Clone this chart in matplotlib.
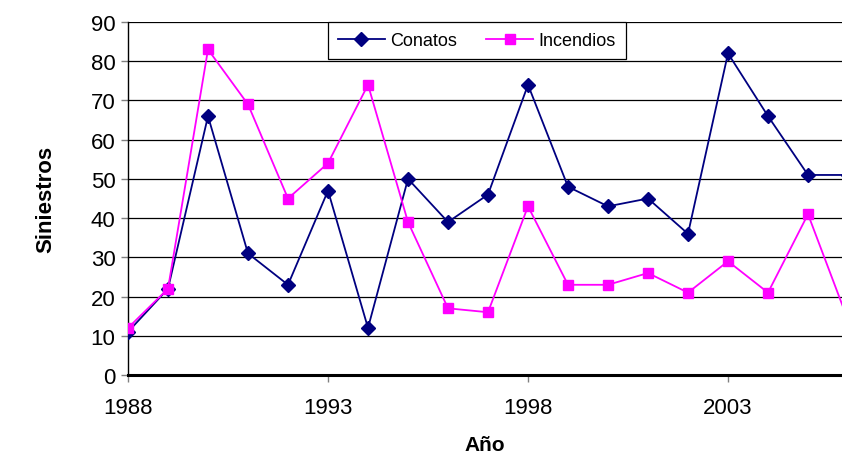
import matplotlib
matplotlib.use("Agg")
import matplotlib.pyplot as plt

plt.rcParams['font.family'] = ['Liberation Sans', 'DejaVu Sans']

# Siniestros por año
years = list(range(1988, 2007))
conatos = [11, 22, 66, 31, 23, 47, 12, 50, 39, 46, 74, 48, 43, 45, 36, 82, 66, 51, 51]
incendios = [12, 22, 83, 69, 45, 54, 74, 39, 17, 16, 43, 23, 23, 26, 21, 29, 21, 41, 14]
xticks = [1988, 1993, 1998, 2003]
yticks = list(range(0, 100, 10))

fig = plt.figure(figsize=(8.42, 4.6), dpi=100)
ax = fig.add_axes([128/842, 84/460, 714/842, 353/460])

ax.plot(years, conatos, color='#000080', marker='D', markersize=7.5,
        linewidth=1.3, label='Conatos', zorder=3)
ax.plot(years, incendios, color='#FF00FF', marker='s', markersize=7.5,
        linewidth=1.3, label='Incendios', zorder=3)

ax.set_xlim(1988, 1988 + 714/40)
ax.set_ylim(0, 90)
ax.set_xticks(xticks)
ax.set_yticks(yticks)
ax.yaxis.grid(True, color='black', linewidth=0.9)
ax.set_axisbelow(True)

for side in ['top', 'right']:
    ax.spines[side].set_visible(False)
ax.spines['left'].set_linewidth(1.0)
ax.spines['bottom'].set_linewidth(2.2)
ax.tick_params(axis='both', labelsize=16, color='#808080',
               direction='out', length=5, width=1)
ax.tick_params(axis='x', pad=11)
ax.tick_params(axis='y', pad=4)

ax.set_xlabel('Año', fontsize=15, fontweight='bold', labelpad=12)
ax.set_ylabel('Siniestros', fontsize=16, fontweight='bold', labelpad=25)

leg = ax.legend(loc='upper left', ncol=2, fontsize=13, frameon=True,
                fancybox=False, edgecolor='black', framealpha=1,
                bbox_to_anchor=(328/842, 1 - 23/460), bbox_transform=fig.transFigure,
                borderaxespad=0, handlelength=2.6, columnspacing=1.6,
                borderpad=0.55, handletextpad=0.3, markerscale=0.9)
leg.get_frame().set_linewidth(0.9)

fig.savefig('out.png', dpi=100)
